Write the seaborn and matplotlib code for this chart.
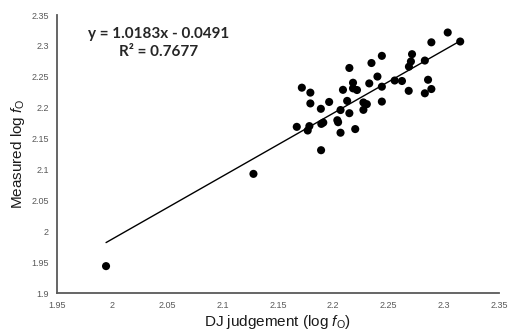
import numpy as np
import pandas as pd
import seaborn as sns
import matplotlib.pyplot as plt
from matplotlib.ticker import FuncFormatter, MultipleLocator

# ── Data ──────────────────────────────────────────────────────────────────────
dj_judgement = [
    1.9944, 2.1278, 2.1890, 2.1670, 2.1769, 2.1784, 2.1892, 2.1910, 2.2066, 2.2037,
    2.2044, 2.2199, 2.2146, 2.2066, 2.1888, 2.1793, 2.1963, 2.2126, 2.2273, 2.2304,
    2.2273, 2.2440, 2.1793, 2.1716, 2.2088, 2.2179, 2.2215, 2.2179, 2.2326, 2.2400,
    2.2440, 2.2556, 2.2622, 2.2146, 2.2346, 2.2440, 2.2683, 2.2829, 2.2888, 2.2858,
    2.2685, 2.2703, 2.2713, 2.2829, 2.2888, 2.3036, 2.3149,
]
measured = [
    1.9437, 2.0930, 2.1313, 2.1691, 2.1632, 2.1703, 2.1739, 2.1760, 2.1596, 2.1798,
    2.1766, 2.1655, 2.1912, 2.1963, 2.1983, 2.2070, 2.2094, 2.2111, 2.2086, 2.2058,
    2.1966, 2.2100, 2.2245, 2.2325, 2.2290, 2.2314, 2.2287, 2.2405, 2.2394, 2.2505,
    2.2341, 2.2441, 2.2433, 2.2644, 2.2724, 2.2840, 2.2274, 2.2234, 2.2303, 2.2453,
    2.2665, 2.2749, 2.2867, 2.2764, 2.3059, 2.3218, 2.3072,
]

slope     = 1.0183
intercept = -0.0491
r_squared = 0.7677

df = pd.DataFrame({"dj": dj_judgement, "measured": measured})

# ── Style ─────────────────────────────────────────────────────────────────────
sns.set_style("white")
plt.rcParams["font.family"] = ["Liberation Sans", "DejaVu Sans"]
plt.rcParams["mathtext.fontset"] = "custom"
plt.rcParams["mathtext.it"] = "Liberation Sans:italic"
plt.rcParams["mathtext.rm"] = "Liberation Sans"

spine_col = "#595959"
tick_col  = "#595959"

fig = plt.figure(figsize=(5.11, 3.35), dpi=100)
ax = fig.add_axes([0.1115, 0.125, 0.865, 0.83])

sns.scatterplot(data=df, x="dj", y="measured", ax=ax,
                color="black", s=34, edgecolor="none", zorder=3)

# trend line over the range of the data
x_line = np.array([df["dj"].min(), df["dj"].max()])
ax.plot(x_line, slope * x_line + intercept, color="black", lw=1.0, zorder=2)

ax.set_xlim(1.95, 2.35)
ax.set_ylim(1.9, 2.35)
ax.xaxis.set_major_locator(MultipleLocator(0.05))
ax.yaxis.set_major_locator(MultipleLocator(0.05))
fmt = FuncFormatter(lambda v, _: f"{round(v, 4):g}")
ax.xaxis.set_major_formatter(fmt)
ax.yaxis.set_major_formatter(fmt)

for side in ["top", "right"]:
    ax.spines[side].set_visible(False)
for side in ["left", "bottom"]:
    ax.spines[side].set_color(spine_col)
    ax.spines[side].set_linewidth(1.3)

ax.tick_params(axis="both", direction="out", length=3, width=1, color=spine_col,
               labelsize=6.5, labelcolor=tick_col, pad=3)

ax.set_xlabel(r"DJ judgement (log $f_\mathrm{O}$)", fontsize=11, color="#1a1a1a", labelpad=2)
ax.set_ylabel(r"Measured log $f_\mathrm{O}$", fontsize=11, color="#1a1a1a", labelpad=3)

ax.text(2.0417, 2.3048,
        f"y = {slope:.4f}x - {abs(intercept):.4f}\nR² = {r_squared:.4f}",
        ha="center", va="center",
        fontsize=11, fontweight="bold", linespacing=1.3,
        family=["Lato", "DejaVu Sans"])

fig.savefig("out.png", dpi=100)
